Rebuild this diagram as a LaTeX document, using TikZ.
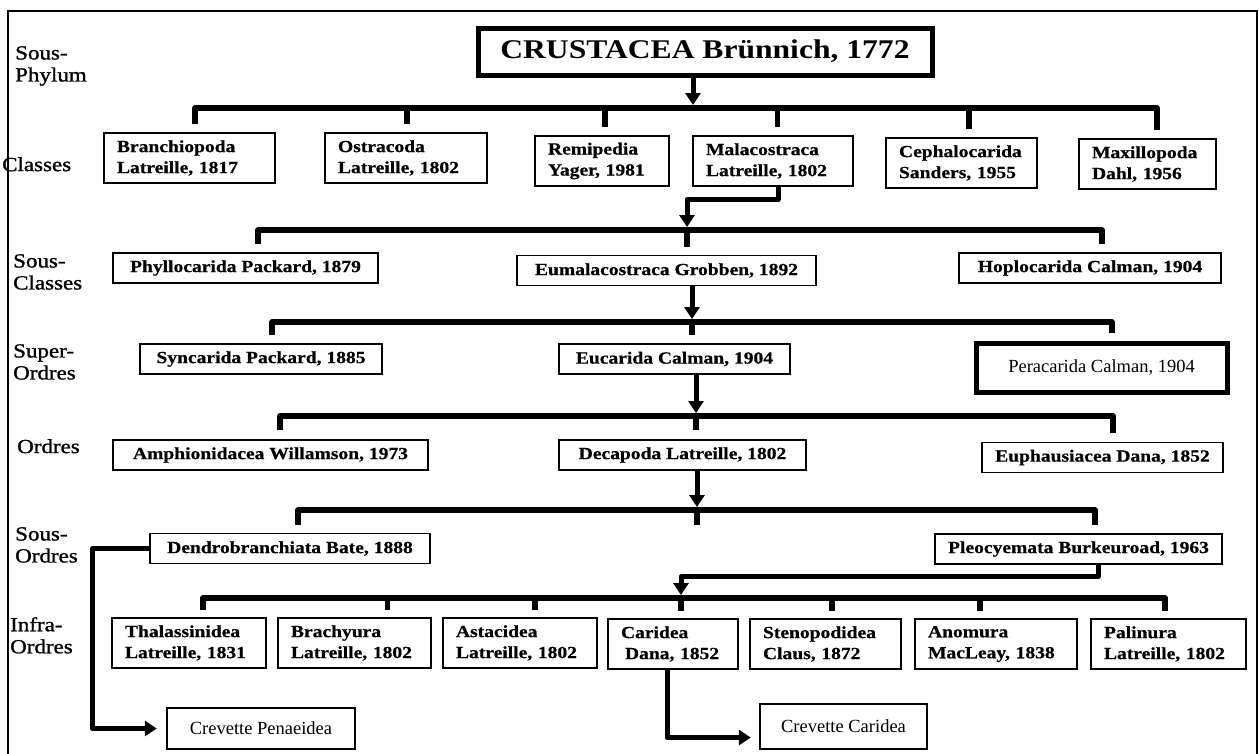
\documentclass[tikz,border=0pt]{standalone}
\usepackage{fontspec}
\setmainfont{Liberation Serif}
\newfontfamily\widefont[FakeStretch=1.15,FakeBold=0.6]{Liberation Serif}
\newfontfamily\titlefont[FakeStretch=1.17]{Liberation Serif}
\newfontfamily\labelfont[FakeStretch=1.15,FakeBold=1.2]{Liberation Serif}
\usetikzlibrary{arrows.meta}

\begin{document}
\begin{tikzpicture}[x=1pt,y=-1pt,
    taxon/.style={draw,line width=1.2pt,inner sep=0pt,font=\widefont\bfseries\fontsize{17}{21}\selectfont},
    pairbox/.style={taxon,align=left,inner xsep=13pt,text width=#1,minimum height=50pt},
    onebox/.style={taxon,minimum height=30pt},
    plainbox/.style={draw,inner sep=0pt,font=\fontsize{18.5}{22}\selectfont},
    rank/.style={anchor=north west,inner sep=0pt,align=left,font=\labelfont\fontsize{20}{22}\selectfont},
    bracket/.style={line width=5.5pt,line join=round},
    arr/.style={line width=5pt,line join=round,-{Triangle[width=15pt,length=12pt]},shorten >=3pt}]

\useasboundingbox (0,0) rectangle (1259,753);
\draw[line width=1.6pt] (8,780) -- (8,11) -- (1257,11) -- (1257,780);

% rangs
\node[rank] (rphy) at (15,46)  {Sous-\\Phylum};
\node[rank] (rcla) at (2,157)  {Classes};
\node[rank] (rscl) at (13,254) {Sous-\\Classes};
\node[rank] (rsup) at (13,344) {Super-\\Ordres};
\node[rank] (rord) at (17,439) {Ordres};
\node[rank] (rsor) at (15,527) {Sous-\\Ordres};
\node[rank] (rinf) at (10,617) {Infra-\\Ordres};

% taxons
\node[draw,line width=5pt,inner sep=0pt,minimum width=454pt,minimum height=47pt,
      font=\titlefont\bfseries\fontsize{27}{30}\selectfont] (crus) at (705,51.5) {CRUSTACEA Brünnich, 1772};

\node[pairbox=145pt] (branch) at (189.5,158) {Branchiopoda\\Latreille, 1817};
\node[pairbox=136pt] (ostra)  at (406,158)   {Ostracoda\\Latreille, 1802};
\node[pairbox=108pt] (remi)   at (602,161)   {Remipedia\\Yager, 1981};
\node[pairbox=134pt] (mala)   at (773,161)   {Malacostraca\\Latreille, 1802};
\node[pairbox=125pt] (cepha)  at (961.5,163) {Cephalocarida\\Sanders, 1955};
\node[pairbox=111pt] (maxi)   at (1147.5,164) {Maxillopoda\\Dahl, 1956};

\node[onebox,minimum width=265pt] (phyllo) at (245.5,268)  {Phyllocarida Packard, 1879};
\node[onebox,minimum width=299pt] (eumala) at (666.5,270.5) {Eumalacostraca Grobben, 1892};
\node[onebox,minimum width=262pt] (hoplo)  at (1090,268)   {Hoplocarida Calman, 1904};

\node[onebox,minimum width=242pt] (syn)  at (261,359)   {Syncarida Packard, 1885};
\node[onebox,minimum width=231pt] (euca) at (674.5,359) {Eucarida Calman, 1904};
\node[plainbox,line width=5pt,minimum width=251pt,minimum height=49pt] (pera) at (1101.5,367.5) {Peracarida Calman, 1904};

\node[onebox,minimum width=315pt] (amphi) at (270.5,455)   {Amphionidacea Willamson, 1973};
\node[onebox,minimum width=247pt] (deca)  at (682.5,455)   {Decapoda Latreille, 1802};
\node[onebox,minimum width=241pt] (euph)  at (1102.5,457.5) {Euphausiacea Dana, 1852};

\node[onebox,minimum width=280pt] (dendro) at (290,548.5)  {Dendrobranchiata Bate, 1888};
\node[onebox,minimum width=287pt] (pleo)   at (1078.5,549) {Pleocyemata Burkeuroad, 1963};

\node[pairbox=128pt] (thal)  at (189,643)    {Thalassinidea\\Latreille, 1831};
\node[pairbox=127pt] (brach) at (354.5,643)  {Brachyura\\Latreille, 1802};
\node[pairbox=128pt] (asta)  at (520,643)    {Astacidea\\Latreille, 1802};
\node[pairbox=104pt] (cari)  at (673,644)    {Caridea\\\hspace*{4pt}Dana, 1852};
\node[pairbox=125pt] (steno) at (825.5,644)  {Stenopodidea\\Claus, 1872};
\node[pairbox=136pt] (anom)  at (996,644)    {Anomura\\MacLeay, 1838};
\node[pairbox=129pt] (pali)  at (1168.5,644) {Palinura\\Latreille, 1802};

\node[plainbox,line width=2.5pt,minimum width=188pt,minimum height=41pt] (crevP) at (261,728.5) {Crevette Penaeidea};
\node[plainbox,line width=2.5pt,minimum width=167pt,minimum height=45pt] (crevC) at (843.5,726.5) {Crevette Caridea};

% accolades
\coordinate (cls) at (693,108);
\coordinate (sc)  at (687,230);
\coordinate (so)  at (692,322);
\coordinate (od)  at (696,416);
\coordinate (sod) at (697,510);
\coordinate (io)  at (681,598);

\draw[bracket] ([xshift=5.5pt,yshift=8pt]branch.north) |- (cls) -| ([xshift=9.5pt,yshift=8pt]maxi.north);
\foreach \n/\s in {ostra/1,remi/3,mala/4.5,cepha/7.5}
  \draw[bracket] ([xshift=\s pt]\n.north |- cls) -- ([xshift=\s pt,yshift=8pt]\n.north);

\draw[bracket] ([xshift=12.5pt,yshift=8pt]phyllo.north) |- (sc) -| ([xshift=12pt,yshift=8pt]hoplo.north);
\draw[bracket] (sc) -- ([yshift=8pt]eumala.north -| sc);

\draw[bracket] ([xshift=11pt,yshift=8pt]syn.north) |- (so) -| ([xshift=10.5pt,yshift=8pt]pera.north);
\draw[bracket] (so) -- ([yshift=8pt]euca.north -| so);

\draw[bracket] ([xshift=9.5pt,yshift=9pt]amphi.north) |- (od) -| ([xshift=10.5pt,yshift=9pt]euph.north);
\draw[bracket] (od) -- ([yshift=9pt]deca.north -| od);

\draw[bracket] ([xshift=8pt,yshift=8pt]dendro.north) |- (sod) -| ([xshift=16.5pt,yshift=8pt]pleo.north);
\draw[bracket] (sod) -- ++(0,15);

\draw[bracket] ([xshift=14pt,yshift=7pt]thal.north) |- (io) -| ([xshift=-3.5pt,yshift=7pt]pali.north);
\foreach \n/\s in {brach/33,asta/15,steno/6.5,anom/-16}
  \draw[bracket] ([xshift=\s pt]\n.north |- io) -- ([xshift=\s pt,yshift=7pt]\n.north);
\draw[bracket] (io) -- ([yshift=7pt]cari.north -| io);

% fleches
\draw[arr] (crus.south -| cls) -- (cls);
\draw[arr] ([xshift=5pt]mala.south) -- ++(0,13) -| (sc);
\draw[arr] (eumala.south -| so) -- (so);
\draw[arr] (euca.south -| od) -- (od);
\draw[arr] (deca.south -| sod) -- (sod);
\draw[arr] ([xshift=19.5pt]pleo.south) -- ++(0,12) -| (io);
\draw[arr,shorten >=9pt] (dendro.west) -- ++(-57,0) |- (crevP.west);
\draw[arr,shorten >=8pt] ([xshift=-6pt]cari.south) |- ([yshift=-11pt]crevC.west);

\end{tikzpicture}
\end{document}
